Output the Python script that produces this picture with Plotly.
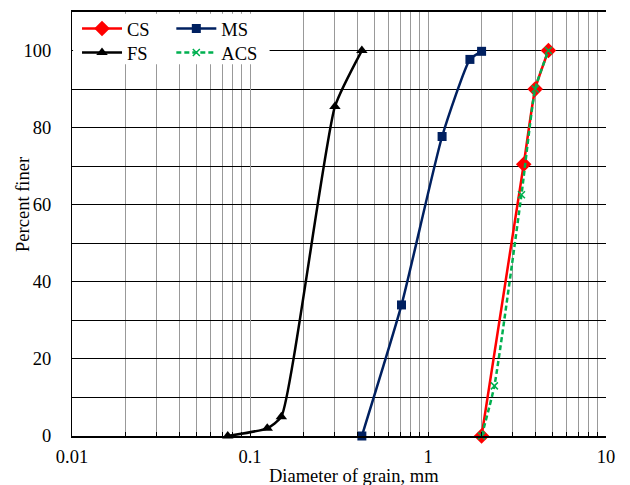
import plotly.graph_objects as go

# ---- data ----
cs_d = [2.0, 3.45, 4.0, 4.75]
cs_p = [0, 70.5, 90, 100]

ms_d = [0.425, 0.71, 1.2, 1.72, 2.0]
ms_p = [0, 34, 77.7, 97.7, 99.8]

fs_d = [0.075, 0.125, 0.15, 0.3, 0.425]
fs_p = [0, 2, 5, 85.5, 100]

acs_d = [2.0, 2.36, 3.35, 4.0, 4.75]
acs_p = [0, 13, 62.6, 90, 100]

x_tick_vals = [0.01, 0.1, 1, 10]
x_tick_text = ["0.01", "0.1", "1", "10"]
y_tick_vals = [0, 20, 40, 60, 80, 100]

FONT = "Liberation Serif"
FS_ = 18.5
SMOOTH = 0.5

fig = go.Figure()
fig.add_trace(go.Scatter(
    x=cs_d, y=cs_p, name="CS", mode="lines+markers", legend="legend",
    line=dict(color="#FF0000", width=2.5, shape="spline", smoothing=SMOOTH),
    marker=dict(symbol="diamond", size=12, color="#FF0000"), cliponaxis=False))
fig.add_trace(go.Scatter(
    x=ms_d, y=ms_p, name="MS", mode="lines+markers", legend="legend2",
    line=dict(color="#002060", width=2.5, shape="spline", smoothing=SMOOTH),
    marker=dict(symbol="square", size=9, color="#002060"), cliponaxis=False))
fig.add_trace(go.Scatter(
    x=fs_d, y=fs_p, name="FS", mode="lines+markers", legend="legend3",
    line=dict(color="#000000", width=2.5, shape="spline", smoothing=SMOOTH),
    marker=dict(symbol="triangle-up", size=10, color="#000000"), cliponaxis=False))
fig.add_trace(go.Scatter(
    x=acs_d, y=acs_p, name="ACS", mode="lines+markers", legend="legend4",
    line=dict(color="#00B050", width=2.5, shape="spline", smoothing=SMOOTH, dash="5px,3px"),
    marker=dict(symbol="x-thin", size=7, line=dict(color="#00B050", width=1.5)),
    cliponaxis=False))

minor_vals = [m * 10 ** e for e in (-2, -1, 0) for m in range(2, 10)]


def leg(x, y):
    return dict(x=x, y=y, xanchor="left", yanchor="middle",
                bgcolor="rgba(0,0,0,0)", font=dict(family=FONT, size=FS_),
                itemwidth=40)


fig.update_layout(
    width=622, height=477,
    margin=dict(l=64, r=24, t=4, b=49, autoexpand=False),
    paper_bgcolor="white", plot_bgcolor="white",
    font=dict(family=FONT, size=FS_, color="black"),
    showlegend=True,
    legend=leg(0.0094, 0.9599),
    legend2=leg(0.186, 0.9599),
    legend3=leg(0.0094, 0.9033),
    legend4=leg(0.186, 0.9033),
    shapes=[dict(type="rect", xref="paper", yref="paper",
                 x0=0.002, x1=0.37, y0=0.877, y1=0.996,
                 fillcolor="white", line=dict(width=0), layer="above")],
    annotations=[
        dict(text="Diameter of grain, mm", xref="paper", yref="paper",
             x=0.528, y=0, xanchor="center", yanchor="middle", yshift=-40,
             showarrow=False, font=dict(family=FONT, size=FS_)),
        dict(text="Percent finer", xref="paper", yref="paper", textangle=-90,
             x=0, y=0.545, xanchor="center", yanchor="middle", xshift=-49,
             showarrow=False, font=dict(family=FONT, size=FS_)),
    ],
)

fig.update_xaxes(
    type="log", range=[-2, 1],
    tickmode="array", tickvals=x_tick_vals, ticktext=x_tick_text,
    ticks="inside", ticklen=4, tickcolor="black",
    showgrid=True, gridcolor="#999999", gridwidth=1,
    showline=True, linecolor="black", linewidth=2, mirror=True,
    minor=dict(tickmode="array", tickvals=minor_vals, ticks="inside", ticklen=4,
               tickcolor="black", showgrid=True, gridcolor="#999999", gridwidth=1),
    tickfont=dict(family=FONT, size=FS_),
    automargin=False, zeroline=False, ticklabelstandoff=3,
)
fig.update_yaxes(
    range=[0, 110],
    tickmode="array", tickvals=y_tick_vals,
    ticks="", showgrid=True, gridcolor="black", gridwidth=1.3,
    showline=True, linecolor="black", linewidth=1.3,
    minor=dict(dtick=10, showgrid=True, gridcolor="black", gridwidth=1.3),
    tickfont=dict(family=FONT, size=FS_),
    automargin=False, zeroline=False, ticklabelstandoff=16,
)

fig.write_html("out.html")
